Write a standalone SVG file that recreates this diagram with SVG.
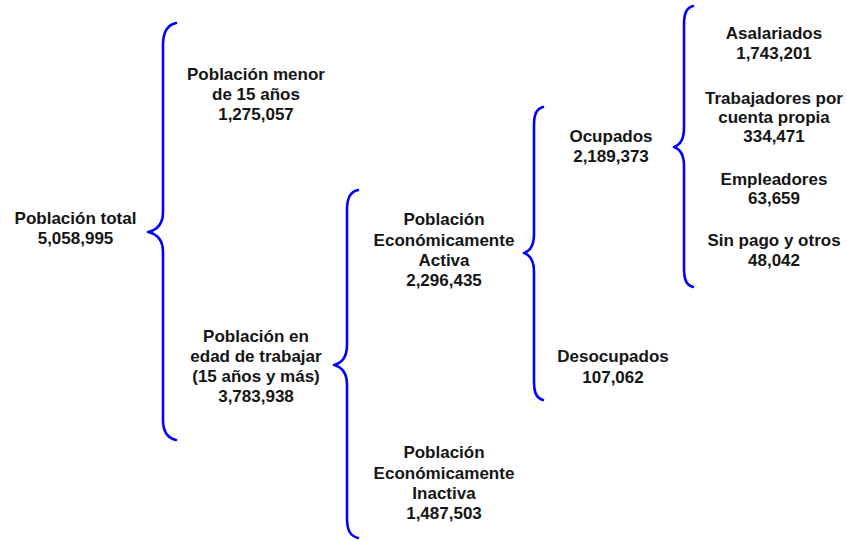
<svg xmlns="http://www.w3.org/2000/svg" width="847" height="541" viewBox="0 0 847 541">
<style>
.t{font-family:"Liberation Sans",Arial,sans-serif;font-weight:bold;font-size:17px;fill:#151515;text-anchor:middle}
.b{fill:none;stroke:#0000ff;stroke-width:2.6;stroke-linecap:round;stroke-linejoin:round}
</style>
<rect width="847" height="541" fill="#fff"/>
<g id="connectors">
<path class="b" d="M176,23 C167,25 163,32 163,45 L163,212 C163,224 157,230 148,232 C157,234 163,240 163,252 L163,420 C163,432 167,438 176,440"/>
<path class="b" d="M358,190 C350,192 347,198 347,210 L347,345 C347,357 342,363 334,365 C342,367 347,373 347,385 L347,518 C347,530 350,536 358,538"/>
<path class="b" d="M543,107 C536,109 534,115 534,126 L534,234 C534,245 530,251 524,253 C530,255 534,261 534,272 L534,381 C534,392 536,398 543,400"/>
<path class="b" d="M693,6 C686,8 684,14 684,25 L684,128 C684,139 680,145 674,147 C680,149 684,155 684,166 L684,268 C684,279 686,285 693,287"/>
</g>
<g id="n-total"><text class="t" x="75.5" y="224">Población total</text><text class="t" x="75.5" y="244">5,058,995</text></g>
<g id="n-menor"><text class="t" x="256" y="80">Población menor</text><text class="t" x="256" y="100">de 15 años</text><text class="t" x="256" y="119.5">1,275,057</text></g>
<g id="n-edad"><text class="t" x="256" y="341.5">Población en</text><text class="t" x="256" y="361.5">edad de trabajar</text><text class="t" x="256" y="381.5">(15 años y más)</text><text class="t" x="256" y="401.5">3,783,938</text></g>
<g id="n-pea"><text class="t" x="444" y="225">Población</text><text class="t" x="444" y="246">Económicamente</text><text class="t" x="444" y="266">Activa</text><text class="t" x="444" y="286">2,296,435</text></g>
<g id="n-pei"><text class="t" x="444" y="458">Población</text><text class="t" x="444" y="478.5">Económicamente</text><text class="t" x="444" y="498.5">Inactiva</text><text class="t" x="444" y="518.5">1,487,503</text></g>
<g id="n-ocup"><text class="t" x="611" y="142">Ocupados</text><text class="t" x="611" y="162">2,189,373</text></g>
<g id="n-desoc"><text class="t" x="613" y="362">Desocupados</text><text class="t" x="613" y="382.5">107,062</text></g>
<g id="n-asal"><text class="t" x="774" y="39">Asalariados</text><text class="t" x="774" y="59">1,743,201</text></g>
<g id="n-cuenta"><text class="t" x="774" y="104">Trabajadores por</text><text class="t" x="774" y="123">cuenta propia</text><text class="t" x="774" y="142">334,471</text></g>
<g id="n-empl"><text class="t" x="774" y="185">Empleadores</text><text class="t" x="774" y="204">63,659</text></g>
<g id="n-sinpago"><text class="t" x="774" y="246">Sin pago y otros</text><text class="t" x="774" y="266">48,042</text></g>
</svg>
